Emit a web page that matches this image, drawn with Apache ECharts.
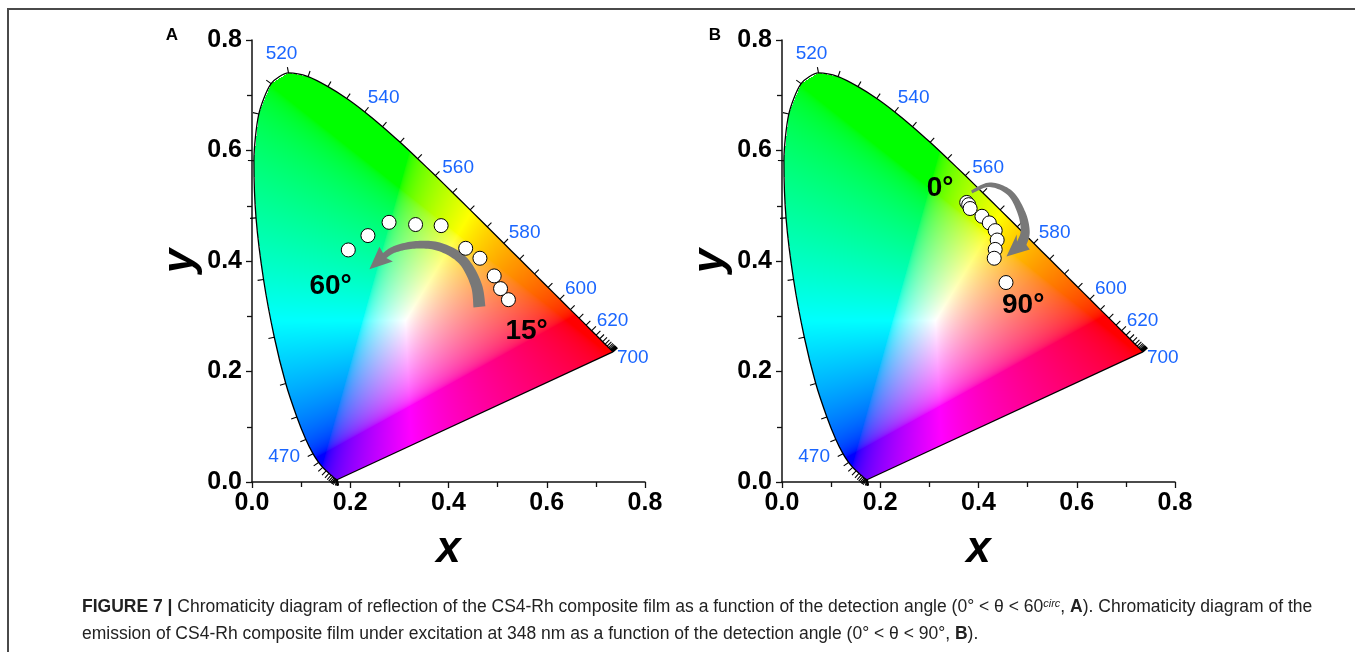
<!DOCTYPE html>
<html><head><meta charset="utf-8">
<script src="https://cdn.jsdelivr.net/npm/echarts@6/dist/echarts.min.js"></script>
<style>html,body{margin:0;padding:0;background:#fff}#c{width:1355px;height:652px}</style>
</head><body><div id="c"></div>
<script>
// ---- Spectral locus (as drawn in the figure), 5 nm steps ----
const WL = [380,385,390,395,400,405,410,415,420,425,430,435,440,445,450,455,460,465,470,475,480,485,490,495,500,505,510,515,520,525,530,535,540,545,550,555,560,565,570,575,580,585,590,595,600,605,610,615,620,625,630,635,640,645,650,655,660,665,670,675,680,685,690,695,700];
const LOCUS_X = [0.1741,0.1740,0.1738,0.1736,0.1733,0.1730,0.1726,0.1721,0.1714,0.1703,0.1689,0.1669,0.1644,0.1611,0.1566,0.1510,0.1440,0.1355,0.1241,0.1096,0.0913,0.0687,0.0454,0.0235,0.0082,0.0039,0.0139,0.0389,0.0743,0.1142,0.1547,0.1929,0.2296,0.2658,0.3016,0.3373,0.3731,0.4087,0.4441,0.4788,0.5125,0.5448,0.5752,0.6029,0.6270,0.6482,0.6658,0.6801,0.6915,0.7006,0.7079,0.7140,0.7190,0.7230,0.7260,0.7283,0.7300,0.7311,0.7320,0.7327,0.7334,0.7340,0.7344,0.7346,0.7347];
const LOCUS_Y = [0.0044,0.0044,0.0044,0.0044,0.0043,0.0043,0.0043,0.0043,0.0045,0.0052,0.0061,0.0076,0.0097,0.0123,0.0157,0.0202,0.0264,0.0354,0.0513,0.0771,0.1178,0.1782,0.2620,0.3665,0.4781,0.5815,0.6662,0.7211,0.7404,0.7337,0.7156,0.6941,0.6698,0.6432,0.6148,0.5851,0.5546,0.5236,0.4926,0.4619,0.4321,0.4035,0.3767,0.3521,0.3308,0.3120,0.2966,0.2839,0.2738,0.2658,0.2593,0.2539,0.2494,0.2460,0.2433,0.2413,0.2398,0.2388,0.2380,0.2374,0.2367,0.2362,0.2359,0.2357,0.2356];
const LABELED_WL = [470,520,540,560,580,600,620,700];

// ---- Panel A: reflection, 15°..60° ----
const A_ANGLES = [15,20,25,30,35,40,45,50,55,60];
const A_X = [0.522,0.506,0.493,0.464,0.435,0.385,0.333,0.279,0.236,0.196];
const A_Y = [0.330,0.350,0.373,0.405,0.423,0.464,0.466,0.470,0.446,0.420];
// ---- Panel B: emission, 0°..90° ----
const B_ANGLES = [0,10,20,30,40,50,60,70,80,90];
const B_X = [0.376,0.380,0.383,0.407,0.422,0.434,0.438,0.434,0.432,0.456];
const B_Y = [0.506,0.502,0.495,0.481,0.469,0.455,0.438,0.421,0.405,0.361];

// ---- Annotations (data coordinates) ----
const A_ARROW = [[0.463,0.317],[0.456,0.358],[0.428,0.402],[0.380,0.426],[0.330,0.429],[0.290,0.421],[0.270,0.410]];
const A_ARROW_TIP = [0.239,0.385];
const B_ARROW = [[0.386,0.525],[0.423,0.538],[0.464,0.523],[0.488,0.486],[0.495,0.453],[0.488,0.432]];
const B_ARROW_TIP = [0.457,0.408];
const A_TEXT = [['60°',0.160,0.354],['15°',0.559,0.272]];
const B_TEXT = [['0°',0.322,0.532],['90°',0.491,0.320]];

// ---- styles ----
const FONT = 'Liberation Sans, Arial, Helvetica, sans-serif';
const WL_LABEL_STYLE = {470:{a:'right',dx:-13,dy:3},520:{a:'center',dx:-7,dy:-19},540:{a:'left',dx:3,dy:-14},560:{a:'left',dx:7,dy:-8},580:{a:'left',dx:5,dy:-10},600:{a:'left',dx:5,dy:-10},620:{a:'left',dx:5,dy:-10},700:{a:'left',dx:4,dy:6}};
const Y_STRETCH = 0.888; // the figure's locus is drawn vertically compressed

function xyColor(x, yp) {
  let y = yp / Y_STRETCH; if (y < 0.002) y = 0.002;
  const X = x / y, Z = (1 - x - y) / y;
  let r = 3.2406*X - 1.5372 - 0.4986*Z;
  let g = -0.9689*X + 1.8758 + 0.0415*Z;
  let b = 0.0557*X - 0.2040 + 1.0570*Z;
  r = Math.max(0, r); g = Math.max(0, g); b = Math.max(0, b);
  const m = Math.max(r, g, b) || 1;
  const gam = c => { c = c / m; return c <= 0.0031308 ? 12.92*c : 1.055*Math.pow(c, 1/2.4) - 0.055; };
  return [Math.round(255*gam(r)), Math.round(255*gam(g)), Math.round(255*gam(b))];
}

const fillCache = {};
function buildFill(p0, p1) {
  const key = p0.join(',') + '|' + p1.join(',');
  if (fillCache[key]) return fillCache[key];
  const w = Math.round(p1[0] - p0[0]), h = Math.round(p0[1] - p1[1]);
  const cv = document.createElement('canvas'); cv.width = w; cv.height = h;
  const ctx = cv.getContext('2d'); const img = ctx.createImageData(w, h);
  const n = LOCUS_X.length;
  for (let j = 0; j < h; j++) {
    const yd = (h - j - 0.5) / h * 0.8;
    const xs = [];
    for (let i = 0; i < n; i++) {
      const k = (i + 1) % n;
      const ay = LOCUS_Y[i], by = LOCUS_Y[k];
      if ((ay <= yd && yd < by) || (by <= yd && yd < ay)) {
        xs.push(LOCUS_X[i] + (yd - ay) * (LOCUS_X[k] - LOCUS_X[i]) / (by - ay));
      }
    }
    xs.sort((a, b) => a - b);
    for (let q = 0; q + 1 < xs.length; q += 2) {
      const c0 = Math.max(0, Math.ceil(xs[q] / 0.8 * w - 0.5));
      const c1 = Math.min(w - 1, Math.floor(xs[q+1] / 0.8 * w - 0.5));
      for (let c = c0; c <= c1; c++) {
        const xd = (c + 0.5) / w * 0.8;
        const col = xyColor(xd, yd);
        const o = (j * w + c) * 4;
        img.data[o] = col[0]; img.data[o+1] = col[1]; img.data[o+2] = col[2]; img.data[o+3] = 255;
      }
    }
  }
  ctx.putImageData(img, 0, 0);
  fillCache[key] = cv;
  return cv;
}

function renderFill(params, api) {
  const p0 = api.coord([0, 0]), p1 = api.coord([0.8, 0.8]);
  const cv = buildFill(p0, p1);
  return {type: 'image', style: {image: cv, x: p0[0], y: p1[1], width: p1[0]-p0[0], height: p0[1]-p1[1]}, silent: true};
}

function locusTicks(params, api) {
  const pts = LOCUS_X.map((x, i) => api.coord([x, LOCUS_Y[i]]));
  const W = api.coord([0.32, 0.30]);
  const children = [];
  const n = pts.length;
  for (let i = 0; i < n; i++) {
    const a = pts[Math.max(0, i-1)], b = pts[Math.min(n-1, i+1)];
    let tx = b[0]-a[0], ty = b[1]-a[1]; let L = Math.hypot(tx, ty);
    if (L < 1e-6) { tx = 1; ty = 0; L = 1; }
    tx /= L; ty /= L;
    let nx = ty, ny = -tx;
    const P = pts[i];
    if (nx*(P[0]-W[0]) + ny*(P[1]-W[1]) < 0) { nx = -nx; ny = -ny; }
    children.push({type:'line', shape:{x1:P[0], y1:P[1], x2:P[0]+nx*6, y2:P[1]+ny*6}, style:{stroke:'#000', lineWidth:1.1}});
  }
  LABELED_WL.forEach(wl => {
    const i = WL.indexOf(wl); const P = pts[i]; const s = WL_LABEL_STYLE[wl];
    children.push({type:'text', x: P[0]+s.dx, y: P[1]+s.dy, style:{text: String(wl), fill:'#1a66ff', fontSize:19, fontFamily: FONT, align: s.a, verticalAlign:'middle'}});
  });
  return {type:'group', children};
}

function catmull(pts, steps) {
  const out = [];
  for (let i = 0; i < pts.length - 1; i++) {
    const p0 = pts[Math.max(0,i-1)], p1 = pts[i], p2 = pts[i+1], p3 = pts[Math.min(pts.length-1,i+2)];
    for (let s = 0; s < steps; s++) {
      const t = s / steps, t2 = t*t, t3 = t2*t;
      out.push([0,1].map(k => 0.5*((2*p1[k]) + (-p0[k]+p2[k])*t + (2*p0[k]-5*p1[k]+4*p2[k]-p3[k])*t2 + (-p0[k]+3*p1[k]-3*p2[k]+p3[k])*t3)));
    }
  }
  out.push(pts[pts.length-1]);
  return out;
}

function makeArrow(pathData, tipData, w0, w1, headLen, headW) {
  return function (params, api) {
    const raw = pathData.map(p => api.coord(p));
    const tip = api.coord(tipData);
    const pts = catmull(raw, 12);
    const n = pts.length;
    let cum = [0];
    for (let i = 1; i < n; i++) cum.push(cum[i-1] + Math.hypot(pts[i][0]-pts[i-1][0], pts[i][1]-pts[i-1][1]));
    const Ltot = cum[n-1];
    const left = [], right = [];
    for (let i = 0; i < n; i++) {
      const a = pts[Math.max(0,i-1)], b = pts[Math.min(n-1,i+1)];
      let tx = b[0]-a[0], ty = b[1]-a[1]; const L = Math.hypot(tx,ty)||1; tx/=L; ty/=L;
      const nx = -ty, ny = tx;
      const w = (w0 + (w1 - w0) * cum[i] / Ltot) / 2;
      left.push([pts[i][0]+nx*w, pts[i][1]+ny*w]);
      right.push([pts[i][0]-nx*w, pts[i][1]-ny*w]);
    }
    const last = pts[n-1];
    let dx = tip[0]-last[0], dy = tip[1]-last[1]; const dl = Math.hypot(dx,dy)||1; dx/=dl; dy/=dl;
    const hx = -dy, hy = dx;
    const base = [last[0] - dx*2, last[1] - dy*2];
    const poly = left.concat([[base[0]+hx*headW/2, base[1]+hy*headW/2], tip, [base[0]-hx*headW/2, base[1]-hy*headW/2]]).concat(right.reverse());
    return {type:'polygon', shape:{points: poly}, style:{fill:'#787878'}};
  };
}

function makeTexts(list) {
  return function (params, api) {
    return {type:'group', children: list.map(t => {
      const p = api.coord([t[1], t[2]]);
      return {type:'text', x:p[0], y:p[1], style:{text:t[0], fill:'#000', fontSize:28, fontWeight:'bold', fontFamily:FONT, align:'center', verticalAlign:'middle'}};
    })};
  };
}

const locusCurve = LOCUS_X.map((x, i) => [x, LOCUS_Y[i]]);
const purpleLine = [[LOCUS_X[0], LOCUS_Y[0]], [LOCUS_X[LOCUS_X.length-1], LOCUS_Y[LOCUS_Y.length-1]]];

function axisPair(gi) {
  const x = {gridIndex: gi, type:'value', min:0, max:0.8, interval:0.2,
    name:'x', nameLocation:'middle', nameGap:46,
    nameTextStyle:{fontSize:44, fontWeight:'bold', fontStyle:'italic', color:'#000', fontFamily:FONT},
    axisLine:{show:true, onZero:false, lineStyle:{color:'#111', width:1.5}},
    axisTick:{show:true, inside:false, length:6, lineStyle:{color:'#111', width:1.3}},
    minorTick:{show:true, splitNumber:2, length:5, lineStyle:{color:'#111', width:1.3}},
    splitLine:{show:false}, minorSplitLine:{show:false},
    axisLabel:{formatter: v => v.toFixed(1), fontSize:25, fontWeight:'bold', color:'#000', fontFamily:FONT, margin:9}};
  const y = {gridIndex: gi, type:'value', min:0, max:0.8, interval:0.2,
    name:'y', nameLocation:'middle', nameGap:49, nameRotate:90,
    nameTextStyle:{fontSize:44, fontWeight:'bold', fontStyle:'italic', color:'#000', fontFamily:FONT},
    axisLine:{show:true, onZero:false, lineStyle:{color:'#111', width:1.5}},
    axisTick:{show:true, inside:false, length:6, lineStyle:{color:'#111', width:1.3}},
    minorTick:{show:true, splitNumber:2, length:5, lineStyle:{color:'#111', width:1.3}},
    splitLine:{show:false}, minorSplitLine:{show:false},
    axisLabel:{formatter: v => v.toFixed(1), fontSize:25, fontWeight:'bold', color:'#000', fontFamily:FONT, margin:10}};
  return [x, y];
}

const axA = axisPair(0), axB = axisPair(1);
const series = [];
[0, 1].forEach(gi => {
  const base = {xAxisIndex: gi, yAxisIndex: gi};
  series.push(Object.assign({type:'custom', data:[[0,0]], renderItem: renderFill, z:1, silent:true, clip:false}, base));
  series.push(Object.assign({type:'line', data: locusCurve, showSymbol:false, symbol:'none', smooth:0.25, lineStyle:{color:'#000', width:1.3}, z:3, silent:true}, base));
  series.push(Object.assign({type:'line', data: purpleLine, showSymbol:false, symbol:'none', lineStyle:{color:'#000', width:1.2}, z:3, silent:true}, base));
  series.push(Object.assign({type:'custom', data:[[0,0]], renderItem: locusTicks, z:3, silent:true, clip:false}, base));
  const arrow = gi === 0 ? makeArrow(A_ARROW, A_ARROW_TIP, 12, 6, 18, 20) : makeArrow(B_ARROW, B_ARROW_TIP, 3, 10, 16, 20);
  series.push(Object.assign({type:'custom', data:[[0,0]], renderItem: arrow, z:4, silent:true, clip:false}, base));
  const xs = gi === 0 ? A_X : B_X, ys = gi === 0 ? A_Y : B_Y;
  series.push(Object.assign({type:'scatter', data: xs.map((x, i) => [x, ys[i]]), symbol:'circle', symbolSize:14,
    itemStyle:{color:'#fff', borderColor:'#000', borderWidth:1, opacity:1}, z:5, silent:true}, base));
  series.push(Object.assign({type:'custom', data:[[0,0]], renderItem: makeTexts(gi === 0 ? A_TEXT : B_TEXT), z:6, silent:true, clip:false}, base));
});

const CAP_FS = 17.5;
const capRich = {
  b:{fontWeight:'bold', fontSize:CAP_FS, fontFamily:FONT, color:'#222'},
  sup:{fontStyle:'italic', fontSize:11, fontFamily:FONT, verticalAlign:'top', color:'#222'},
  n:{fontSize:CAP_FS, fontFamily:FONT, color:'#222'}
};

const option = {
  animation: false,
  backgroundColor: '#fff',
  grid: [
    {left:252, top:40, width:393, height:442, containLabel:false, outerBoundsMode:'none'},
    {left:782, top:40, width:393, height:442, containLabel:false, outerBoundsMode:'none'}
  ],
  xAxis: [axA[0], axB[0]],
  yAxis: [axA[1], axB[1]],
  series: series,
  graphic: [
    {type:'line', shape:{x1:7, y1:9, x2:1355, y2:9}, style:{stroke:'#4a4a4a', lineWidth:2}},
    {type:'line', shape:{x1:8, y1:8, x2:8, y2:652}, style:{stroke:'#4a4a4a', lineWidth:2}},
    {type:'text', x:172, y:35, style:{text:'A', fontSize:17, fontWeight:'bold', fontFamily:FONT, fill:'#000', align:'center', verticalAlign:'middle'}},
    {type:'text', x:715, y:35, style:{text:'B', fontSize:17, fontWeight:'bold', fontFamily:FONT, fill:'#000', align:'center', verticalAlign:'middle'}},
    {type:'text', x:82, y:607, style:{text:'{b|FIGURE 7 |}{n| Chromaticity diagram of reflection of the CS4-Rh composite film as a function of the detection angle (0° < θ < 60}{sup|circ}{n|, }{b|A}{n|). Chromaticity diagram of the}', rich: capRich, fontSize:CAP_FS, fontFamily:FONT, fill:'#222', verticalAlign:'middle'}},
    {type:'text', x:82, y:634, style:{text:'{n|emission of CS4-Rh composite film under excitation at 348 nm as a function of the detection angle (0° < θ < 90°, }{b|B}{n|).}', rich: capRich, fontSize:CAP_FS, fontFamily:FONT, fill:'#222', verticalAlign:'middle'}}
  ]
};

const chart = echarts.init(document.getElementById('c'), null, {renderer:'canvas'});
chart.setOption(option);
</script>
</body></html>
